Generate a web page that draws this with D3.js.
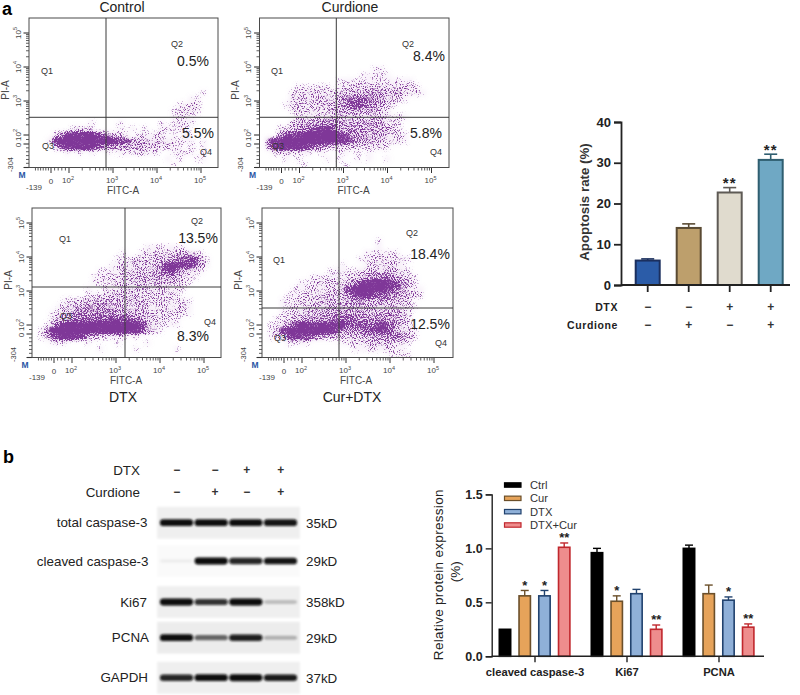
<!DOCTYPE html>
<html>
<head>
<meta charset="utf-8">
<script src="https://cdnjs.cloudflare.com/ajax/libs/d3/7.8.5/d3.min.js"></script>
<style>
    html, body { margin: 0; padding: 0; background: #fff; }
    svg { display: block; }
    text { font-family: "Liberation Sans", Arial, sans-serif; }
</style>
</head>
<body>
<div id="chart"></div>
<script>

// flow cytometry density: rows top to bottom, one digit per cell, "." is empty
var controlDensity = [
    "", "", "", "", "", "", "", "", "", "", "", "",
    ".............................1",
    "...........................11",
    ".........................1122",
    "........................11221",
    "........................1121",
    "..........1....1......1.1111",
    ".......1211....1.1.1..11111",
    "....3578888764321.11122.1.11",
    "...2899999999987654433222111.1",
    "....4789988765544443332211.1.1",
    "......1.1.1..1.1112211..1111.1",
    ".......................1.1..11",
    "........................1"
];
var curdioneDensity = [
    "", "", "", "", "", "", "", "",
    "...................11",
    ".................11111",
    ".............1111111111111",
    "......111111.12222222222221",
    ".....22222222333445554452221",
    ".....33333333456665543321",
    "....1122222334567654322",
    ".....22222223444444422",
    "......2222333333333333221",
    ".....3344455554444444111",
    "...222456788754544444421",
    "...5678999999865554443221",
    ".689999999999876544332221",
    ".589999876532222211221",
    "..2222111.1..11.1.1",
    "....1.1....1.1..1.1..1",
    ".......1......1"
];
var dtxDensity = [
    "", "", "", "", "", "",
    "...................1111111",
    "...............1..12222333321",
    "..............1112222333567741",
    ".............12223333477887642",
    "...........111133333457763321",
    "..........111223333344443211",
    "..........11112233333333221",
    ".........1..22233333332221",
    ".........1112333332222221",
    ".....1223333443333332222211",
    "....12344555544333322222221",
    "...123456555554444332222221",
    "...2345666666766654322211",
    "..13789999999999998522111",
    ".158999999999999887531",
    ".136899874321111.1",
    "...111...1....1....1",
    "...........1.....1......1",
    ""
];
var curDtxDensity = [
    "", "", "", "", "",
    "...................1",
    "...................1",
    ".................111111",
    "................111222111",
    ".............1...1222221",
    "...........11111223333221",
    "........111111223455654321",
    "......11122222357899987531",
    ".....1112223347999998864211",
    "....11122223335788766554332",
    "...1112223333344544443332",
    "...11223333444444333333321",
    "...1123334445555544444432",
    "..11233444556666555555432",
    ".113578888888766666776532",
    ".1479999999975555677764321",
    ".1247877654332333344556532",
    "....1111.....112223332221",
    "...............111212211",
    ".....................1111"
];

var flowNames = ["Control", "Curdione", "DTX", "Cur+DTX"];
var q2Percent = ["0.5%", "8.4%", "13.5%", "18.4%"];
var q4Percent = ["5.5%", "5.8%", "8.3%", "12.5%"];
var flowTickX = [0, 100, 1000, 10000, 100000];
var flowTickY = [0, 100, 1000, 10000, 100000];
var flowMinor = [200, 300, 400, 500, 600, 700, 800, 900, 2000, 3000, 4000, 5000, 6000, 7000, 8000, 9000,
    20000, 30000, 40000, 50000, 60000, 70000, 80000, 90000];
var flowMinorLow = [-120, -100, -80, -60, -40, -20, 20, 40, 60, 80];

// apoptosis bars
var apoptosisRate = [6, 14, 22.7, 30.7];
var apoptosisError = [0.4, 1, 1.2, 1.4];
var apoptosisStars = ["", "", "**", "**"];
var apoptosisTicks = [0, 10, 20, 30, 40];
var dtxSigns = ["−", "−", "+", "+"];
var curSigns = ["−", "+", "−", "+"];

// western blot, band strength 0-1
var blotLabels = ["total caspase-3", "cleaved caspase-3", "Ki67", "PCNA", "GAPDH"];
var blotWeights = ["35kD", "29kD", "358kD", "29kD", "37kD"];
var blotBands = [
    [0.95, 0.95, 0.95, 0.92],
    [0.05, 0.98, 0.85, 0.92],
    [0.95, 0.8, 0.98, 0.2],
    [0.95, 0.55, 0.88, 0.25],
    [0.85, 0.95, 0.97, 0.9]
];
var blotBackground = [0.06, 0.015, 0.06, 0.07, 0.06];

// protein expression bars
var proteinGroups = ["cleaved caspase-3", "Ki67", "PCNA"];
var proteinSeries = ["Ctrl", "Cur", "DTX", "DTX+Cur"];
var proteinValues = [
    [0.25, 0.56, 0.56, 1.01],
    [0.96, 0.51, 0.58, 0.25],
    [1.0, 0.58, 0.52, 0.27]
];
var proteinErrors = [
    [0, 0.05, 0.05, 0.04],
    [0.04, 0.05, 0.04, 0.04],
    [0.03, 0.08, 0.03, 0.03]
];
var proteinStars = [
    ["", "*", "*", "**"],
    ["", "*", "", "**"],
    ["", "", "*", "**"]
];
var proteinTicks = [0, 0.5, 1, 1.5];

var svg = d3.select("#chart").append("svg")
    .attr("width", 800)
    .attr("height", 695);

var defs = svg.append("defs");
defs.append("filter").attr("id", "soft").attr("x", "-20%").attr("y", "-60%").attr("width", "140%").attr("height", "220%")
    .append("feGaussianBlur").attr("stdDeviation", 1);
defs.append("filter").attr("id", "softer").attr("x", "-10%").attr("y", "-20%").attr("width", "120%").attr("height", "140%")
    .append("feGaussianBlur").attr("stdDeviation", 2.2);

function addStipple(id, seed) {
    var f = defs.append("filter").attr("id", id)
        .attr("x", "0").attr("y", "0").attr("width", "1").attr("height", "1")
        .attr("color-interpolation-filters", "sRGB");
    f.append("feGaussianBlur").attr("in", "SourceAlpha").attr("stdDeviation", 1.8).attr("result", "b");
    f.append("feTurbulence").attr("type", "fractalNoise").attr("baseFrequency", 0.95)
        .attr("numOctaves", 2).attr("seed", seed).attr("result", "t");
    f.append("feColorMatrix").attr("in", "t").attr("type", "matrix")
        .attr("values", "0 0 0 0 0  0 0 0 0 0  0 0 0 0 0  2.6 0 0 0 -0.8").attr("result", "n");
    f.append("feComposite").attr("in", "b").attr("in2", "n").attr("operator", "arithmetic")
        .attr("k1", 0).attr("k2", 1.35).attr("k3", 1).attr("k4", -1).attr("result", "s");
    var ct = f.append("feComponentTransfer").attr("in", "s").attr("result", "g");
    ct.append("feFuncA").attr("type", "linear").attr("slope", 2.6).attr("intercept", 0);
    f.append("feGaussianBlur").attr("in", "g").attr("stdDeviation", 0.35).attr("result", "g2");
    f.append("feFlood").attr("flood-color", "#7f3798").attr("result", "c");
    f.append("feComposite").attr("in", "c").attr("in2", "g2").attr("operator", "in");
}

function label(parent, txt, x, y, size, opts) {
    opts = opts || {};
    return parent.append("text")
        .attr("x", x).attr("y", y)
        .attr("font-size", size)
        .attr("font-weight", opts.weight || "normal")
        .attr("text-anchor", opts.anchor || "middle")
        .attr("dominant-baseline", "central")
        .attr("fill", opts.fill || "#222")
        .attr("letter-spacing", opts.spacing || null)
        .text(txt);
}

var flowPanels = [
    { density: controlDensity, left: 29, top: 18, w: 189, v: 106, h: 117.3,
      title: [122, 7], q1: [47, 71], q2: [177, 44], q3: [48, 146], q4: [206, 152], p2: [193, 61], p4: [198, 133] },
    { density: curdioneDensity, left: 259.5, top: 18, w: 189.5, v: 336.3, h: 117.3,
      title: [350, 7], q1: [277, 71], q2: [408, 44], q3: [278, 146], q4: [436, 152], p2: [429, 56], p4: [426, 133] },
    { density: dtxDensity, left: 32, top: 208, w: 189, v: 125, h: 287,
      title: [123, 397], q1: [65, 239], q2: [197, 221], q3: [66, 316], q4: [210, 322], p2: [198, 238], p4: [193, 336] },
    { density: curDtxDensity, left: 262, top: 208, w: 191, v: 339, h: 308,
      title: [352, 397], q1: [279, 260], q2: [412, 233], q3: [280, 338], q4: [441, 343], p2: [430, 254], p4: [430, 324] }
];

var cellOpacity = d3.scaleLinear().domain([0, 1, 5, 8, 9]).range([0, 0.2, 0.46, 0.9, 1]).clamp(true);

function drawFlow(p, i) {
    var boxH = 149.5;
    var g = svg.append("g").attr("transform", "translate(" + p.left + "," + p.top + ")");

    var rows = d3.range(25), cols = d3.range(32);
    var gx = d3.scaleBand().domain(cols).range([0, p.w]);
    var gy = d3.scaleBand().domain(rows).range([0, boxH]);

    var cells = [];
    p.density.forEach(function(row, r) {
        row.split("").forEach(function(c, k) {
            if (c !== ".") cells.push({ r: r, c: k, d: +c });
        });
    });

    g.append("g").attr("filter", "url(#softer)").selectAll("rect")
        .data(cells).enter().append("rect")
        .attr("x", function(d) { return gx(d.c); })
        .attr("y", function(d) { return gy(d.r); })
        .attr("width", gx.bandwidth() + 0.5)
        .attr("height", gy.bandwidth() + 0.5)
        .attr("fill", "#c48fd0")
        .attr("opacity", function(d) { return cellOpacity(d.d) * 0.45; });

    addStipple("stipple" + i, 7 + i * 5);
    g.append("g").attr("filter", "url(#stipple" + i + ")").selectAll("rect")
        .data(cells).enter().append("rect")
        .attr("x", function(d) { return gx(d.c); })
        .attr("y", function(d) { return gy(d.r); })
        .attr("width", gx.bandwidth() + 0.5)
        .attr("height", gy.bandwidth() + 0.5)
        .attr("fill", "#000")
        .attr("fill-opacity", function(d) { return cellOpacity(d.d); });

    // biexponential axes: linear around zero, log above 100
    var xLow = d3.scaleLinear().domain([-139, 0, 100]).range([4, 22, 40]);
    var xHigh = d3.scaleLog().domain([100, 100000]).range([40, 172]);
    var yLow = d3.scaleLinear().domain([-304, 0, 100]).range([boxH, 126, 117]);
    var yHigh = d3.scaleLog().domain([100, 100000]).range([117, 15]);
    function px(v) { return v <= 100 ? xLow(v) : xHigh(v); }
    function py(v) { return v <= 100 ? yLow(v) : yHigh(v); }

    var tickColor = "#333";
    g.append("g").selectAll("line").data(flowMinor.concat(flowMinorLow)).enter().append("line")
        .attr("x1", px).attr("x2", px).attr("y1", boxH).attr("y2", boxH + 3)
        .attr("stroke", tickColor).attr("stroke-width", 0.8);
    g.append("g").selectAll("line").data(flowTickX).enter().append("line")
        .attr("x1", px).attr("x2", px).attr("y1", boxH).attr("y2", boxH + 5.5)
        .attr("stroke", tickColor).attr("stroke-width", 1);
    g.append("g").selectAll("line").data(flowMinor.concat([-250, -200, -150, -100, -50, 50])).enter().append("line")
        .attr("y1", py).attr("y2", py).attr("x1", -3).attr("x2", 0)
        .attr("stroke", tickColor).attr("stroke-width", 0.8);
    g.append("g").selectAll("line").data(flowTickY.concat([-304])).enter().append("line")
        .attr("y1", py).attr("y2", py).attr("x1", -5.5).attr("x2", 0)
        .attr("stroke", tickColor).attr("stroke-width", 1.1);

    g.append("rect").attr("width", p.w).attr("height", boxH)
        .attr("fill", "none").attr("stroke", "#4a4a4a").attr("stroke-width", 1);

    // tick labels
    label(g, "M", -7, boxH + 7, 8.5, { weight: "bold", fill: "#2b56a5" });
    label(g, "-139", px(-139) + 1, boxH + 19.5, 8, { fill: "#444" });
    label(g, "0", px(0), boxH + 14, 8, { fill: "#444" });
    flowTickX.slice(1).forEach(function(v) {
        var t = label(g, "10", px(v) - 1, boxH + 13, 8, { fill: "#444" });
        t.append("tspan").attr("dy", -3).attr("font-size", 5.5).text(Math.round(Math.log10(v)));
    });
    label(g, "FITC-A", 94, boxH + 22.5, 10, { fill: "#444" });
    function rot(txt, y, x, size) {
        return label(g, txt, 0, 0, size, { fill: "#444" })
            .attr("transform", "translate(" + x + "," + y + ") rotate(-90)");
    }
    flowTickY.slice(1).forEach(function(v) {
        var t = rot("10", py(v), -11, 8);
        t.append("tspan").attr("dy", -3).attr("font-size", 5.5).text(Math.round(Math.log10(v)));
    });
    rot("0", py(0) + 1, -11, 8);
    rot("-304", boxH - 3, -19, 7.5);
    rot("PI-A", 72, -24, 10);

    // gate lines go over the dots
    svg.append("line").attr("x1", p.v).attr("x2", p.v).attr("y1", p.top).attr("y2", p.top + boxH)
        .attr("stroke", "#3a3a3a").attr("stroke-width", 1);
    svg.append("line").attr("x1", p.left).attr("x2", p.left + p.w).attr("y1", p.h).attr("y2", p.h)
        .attr("stroke", "#3a3a3a").attr("stroke-width", 1);

    label(svg, "Q1", p.q1[0], p.q1[1], 9, { fill: "#333" });
    label(svg, "Q2", p.q2[0], p.q2[1], 9, { fill: "#333" });
    label(svg, "Q3", p.q3[0], p.q3[1], 9, { fill: "#333" });
    label(svg, "Q4", p.q4[0], p.q4[1], 9, { fill: "#333" });
    label(svg, q2Percent[i], p.p2[0], p.p2[1], 14, { fill: "#222" });
    label(svg, q4Percent[i], p.p4[0], p.p4[1], 14, { fill: "#222" });
    label(svg, flowNames[i], p.title[0], p.title[1], 14, { fill: "#222" });
}

flowPanels.forEach(drawFlow);

label(svg, "a", 2, 9, 18, { weight: "bold", anchor: "start", fill: "#000" });
label(svg, "b", 3, 457, 18, { weight: "bold", anchor: "start", fill: "#000" });

// apoptosis chart
(function() {
    var y = d3.scaleLinear().domain([0, 40]).range([285, 122]);
    var x = d3.scaleBand().domain(d3.range(4)).range([627.2, 791.2]).paddingInner(0.366).paddingOuter(0.183);
    var fills = ["#2b5ca8", "#bd9f6c", "#e0dbce", "#6fa8c4"];
    var strokes = ["#1b2f5e", "#5a4a33", "#5e5a55", "#2f5e70"];

    var g = svg.append("g");

    var bars = g.selectAll(".rate").data(apoptosisRate).enter().append("g").attr("class", "rate");
    bars.append("line")
        .attr("x1", function(d, i) { return x(i) + x.bandwidth() / 2; })
        .attr("x2", function(d, i) { return x(i) + x.bandwidth() / 2; })
        .attr("y1", function(d) { return y(d); })
        .attr("y2", function(d, i) { return y(d + apoptosisError[i]); })
        .attr("stroke", function(d, i) { return strokes[i]; }).attr("stroke-width", 1.6);
    bars.append("line")
        .attr("x1", function(d, i) { return x(i) + x.bandwidth() / 2 - 6.5; })
        .attr("x2", function(d, i) { return x(i) + x.bandwidth() / 2 + 6.5; })
        .attr("y1", function(d, i) { return y(d + apoptosisError[i]); })
        .attr("y2", function(d, i) { return y(d + apoptosisError[i]); })
        .attr("stroke", function(d, i) { return strokes[i]; }).attr("stroke-width", 1.6);
    bars.append("rect")
        .attr("x", function(d, i) { return x(i) + 1; })
        .attr("y", function(d) { return y(d); })
        .attr("width", x.bandwidth() - 2)
        .attr("height", function(d) { return y(0) - y(d); })
        .attr("fill", function(d, i) { return fills[i]; })
        .attr("stroke", function(d, i) { return strokes[i]; })
        .attr("stroke-width", 2);

    apoptosisStars.forEach(function(s, i) {
        if (s) label(g, s, x(i) + x.bandwidth() / 2, y(apoptosisRate[i] + apoptosisError[i]) - 5, 15, { weight: "bold", fill: "#222", spacing: "1px" });
    });

    var yAxis = g.append("g").attr("transform", "translate(621,0)")
        .call(d3.axisLeft(y).tickValues(apoptosisTicks).tickSize(7).tickPadding(3));
    yAxis.selectAll("line, path").attr("stroke", "#222").attr("stroke-width", 1.8);
    yAxis.selectAll("text").attr("font-size", 13).attr("font-weight", "bold").attr("fill", "#222")
        .attr("font-family", "Liberation Sans");

    var xAxis = g.append("g").attr("transform", "translate(0,285)")
        .call(d3.axisBottom(x).tickSize(7).tickFormat(""));
    xAxis.select(".domain").attr("d", "M621,0H790");
    xAxis.selectAll("line, path").attr("stroke", "#222").attr("stroke-width", 1.8);

    label(g, "DTX", 618, 307, 10.5, { weight: "bold", anchor: "end", fill: "#222", spacing: "0.6px" });
    label(g, "Curdione", 618, 325, 10.5, { weight: "bold", anchor: "end", fill: "#222", spacing: "0.6px" });
    dtxSigns.forEach(function(s, i) { label(g, s, x(i) + x.bandwidth() / 2, 307, 12, { weight: "bold", fill: "#333" }); });
    curSigns.forEach(function(s, i) { label(g, s, x(i) + x.bandwidth() / 2, 325, 12, { weight: "bold", fill: "#333" }); });

    label(g, "Apoptosis rate (%)", 0, 0, 13.3, { weight: "bold", fill: "#333" })
        .attr("transform", "translate(584,202) rotate(-90)");
})();

// western blot
(function() {
    var g = svg.append("g");
    var rowCentres = [522.7, 561, 602, 637.7, 677.7];
    var rowY = d3.scaleOrdinal().domain(blotLabels).range(rowCentres);
    var lane = d3.scaleBand().domain(d3.range(4)).range([158.5, 298.5]).padding(0.04);
    var signX = d3.scaleOrdinal().domain(d3.range(4)).range([176.7, 215, 246.7, 280.7]);
    var labelRight = [147.5, 148.5, 147, 149, 148];

    blotLabels.forEach(function(name, r) {
        var cy = rowY(name);
        g.append("rect").attr("x", 157).attr("y", cy - 16).attr("width", 143).attr("height", 32)
            .attr("fill", "#000").attr("opacity", blotBackground[r]).attr("filter", "url(#soft)");

        var bands = g.append("g").attr("filter", "url(#soft)");
        bands.selectAll("rect").data(blotBands[r]).enter().append("rect")
            .attr("x", function(d, i) { return lane(i); })
            .attr("width", lane.bandwidth())
            .attr("y", function(d) { return cy - (1.6 + 1.9 * d); })
            .attr("height", function(d) { return 3.2 + 3.8 * d; })
            .attr("rx", 3.5)
            .attr("fill", "#0a0a0a")
            .attr("opacity", function(d) { return Math.min(1, d * 1.05); });

        label(g, name, labelRight[r], cy, 13.4, { anchor: "end", fill: "#222" });
        label(g, blotWeights[r], 306, cy + 0.5, 13.4, { anchor: "start", fill: "#222" });
    });

    label(g, "DTX", 140, 470.7, 13.4, { anchor: "end", fill: "#222" });
    label(g, "Curdione", 140, 492.7, 13.4, { anchor: "end", fill: "#222" });
    dtxSigns.forEach(function(s, i) { label(g, s, signX(i), 470, 12, { weight: "bold", fill: "#333" }); });
    curSigns.forEach(function(s, i) { label(g, s, signX(i), 491.5, 12, { weight: "bold", fill: "#333" }); });
})();

// protein expression chart
(function() {
    var y = d3.scaleLinear().domain([0, 1.5]).range([656.3, 494.4]);
    var x0 = d3.scaleBand().domain(proteinGroups).range([489, 765]);
    var x1 = d3.scaleBand().domain(proteinSeries).range([9.5, 81.7]).paddingInner(0.342);
    var fills = ["#000000", "#e6a35a", "#8fb0d8", "#ee8d8d"];
    var strokes = ["#000000", "#6b4f2a", "#21426e", "#c0272d"];
    var g = svg.append("g");

    var groups = g.selectAll(".group").data(proteinGroups).enter().append("g")
        .attr("class", "group")
        .attr("transform", function(d) { return "translate(" + x0(d) + ",0)"; });

    groups.each(function(name, gi) {
        var group = d3.select(this);
        proteinSeries.forEach(function(s, si) {
            var v = proteinValues[gi][si], e = proteinErrors[gi][si];
            var cx = x1(s) + x1.bandwidth() / 2;
            if (e > 0) {
                group.append("line").attr("x1", cx).attr("x2", cx).attr("y1", y(v)).attr("y2", y(v + e))
                    .attr("stroke", strokes[si]).attr("stroke-width", 1.4);
                group.append("line").attr("x1", cx - 4).attr("x2", cx + 4).attr("y1", y(v + e)).attr("y2", y(v + e))
                    .attr("stroke", strokes[si]).attr("stroke-width", 1.4);
            }
            group.append("rect")
                .attr("x", x1(s) + 0.8).attr("y", y(v))
                .attr("width", x1.bandwidth() - 1.6)
                .attr("height", y(0) - y(v))
                .attr("fill", fills[si]).attr("stroke", strokes[si]).attr("stroke-width", 1.6);
            if (proteinStars[gi][si]) {
                label(group, proteinStars[gi][si], cx, y(v + e) - 5, 13, { weight: "bold", fill: "#222" });
            }
        });
    });

    var yAxis = g.append("g").attr("transform", "translate(491.7,0)")
        .call(d3.axisLeft(y).tickValues(proteinTicks).tickFormat(d3.format(".1f")).tickSize(6).tickPadding(3));
    yAxis.selectAll("line, path").attr("stroke", "#222").attr("stroke-width", 1.4);
    yAxis.selectAll("text").attr("font-size", 12.5).attr("font-weight", "bold").attr("fill", "#222")
        .attr("font-family", "Liberation Sans");

    var xAxis = g.append("g").attr("transform", "translate(0,656.3)")
        .call(d3.axisBottom(x0).tickSize(6).tickFormat(""));
    xAxis.select(".domain").attr("d", "M491.7,0H764");
    xAxis.selectAll("line, path").attr("stroke", "#222").attr("stroke-width", 1.4);
    proteinGroups.forEach(function(name) {
        label(g, name, x0(name) + x0.bandwidth() / 2, 671.7, 11.2, { weight: "bold", fill: "#222" });
    });

    var legendY = d3.scalePoint().domain(proteinSeries).range([485, 525]);
    proteinSeries.forEach(function(s, i) {
        g.append("rect").attr("x", 504.5).attr("y", legendY(s) - 2.2).attr("width", 16.5).attr("height", 4.4)
            .attr("fill", fills[i]).attr("stroke", strokes[i]).attr("stroke-width", 1.2);
        label(g, s, 530, legendY(s), 11.2, { anchor: "start", fill: "#333" });
    });

    label(g, "Relative protein expression", 0, 0, 13.5, { fill: "#222", spacing: "0.3px" })
        .attr("transform", "translate(438,574.7) rotate(-90)");
    label(g, "(%)", 0, 0, 13.5, { fill: "#222" })
        .attr("transform", "translate(455,571.7) rotate(-90)");
})();

</script>
</body>
</html>
